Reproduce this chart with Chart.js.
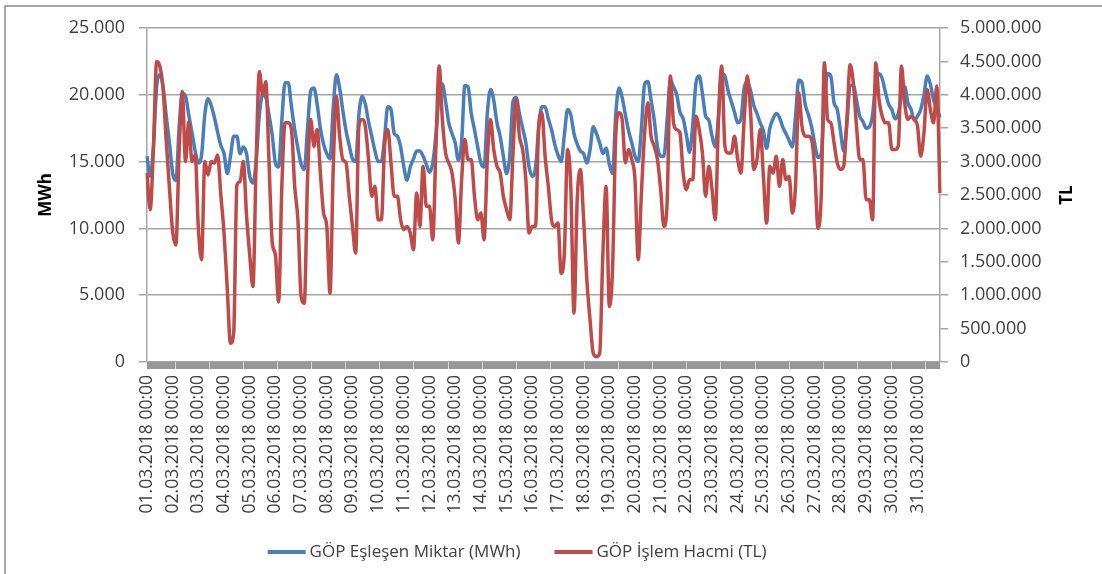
<!DOCTYPE html>
<html>
<head>
<meta charset="utf-8">
<script src="https://cdn.jsdelivr.net/npm/chart.js@4.4.1/dist/chart.umd.min.js"></script>
<style>
  html, body { margin: 0; padding: 0; background: #fff; }
  #wrap { width: 1102px; height: 574px; }
</style>
</head>
<body>
<div id="wrap"><canvas id="chart" width="1102" height="574"></canvas></div>
<script>
// one label per day, 8 samples per day (every 3 hours)
var days = [
  '01.03.2018', '02.03.2018', '03.03.2018', '04.03.2018', '05.03.2018', '06.03.2018',
  '07.03.2018', '08.03.2018', '09.03.2018', '10.03.2018', '11.03.2018', '12.03.2018',
  '13.03.2018', '14.03.2018', '15.03.2018', '16.03.2018', '17.03.2018', '18.03.2018',
  '19.03.2018', '20.03.2018', '21.03.2018', '22.03.2018', '23.03.2018', '24.03.2018',
  '25.03.2018', '26.03.2018', '27.03.2018', '28.03.2018', '29.03.2018', '30.03.2018',
  '31.03.2018'
];
var hours = ['00:00', '03:00', '06:00', '09:00', '12:00', '15:00', '18:00', '21:00'];

var seriesNames = ['GÖP Eşleşen Miktar (MWh)', 'GÖP İşlem Hacmi (TL)'];

// GÖP Eşleşen Miktar (MWh)
var matched = [
  15400, 13900, 16100, 20600, 21500, 20600, 18400, 16400,
  14100, 13600, 17500, 20100, 19900, 18500, 17200, 15800,
  14900, 15500, 18500, 19700, 19200, 18300, 17200, 16200,
  15600, 14100, 15400, 16900, 16900, 15600, 16100, 15600,
  13900, 13400, 15000, 18500, 20000, 19800, 18500, 17000,
  14900, 14600, 18100, 20900, 20900, 19100, 17400, 16000,
  14800, 14400, 17500, 20300, 20500, 19300, 17500, 16300,
  15600, 15200, 19000, 21500, 20500, 18800, 17300, 16200,
  15200, 15000, 18500, 19900, 19300, 18000, 16900, 15800,
  15000, 15000, 16800, 19100, 18900, 17100, 16900, 16100,
  14600, 13600, 14600, 15200, 15800, 15800, 15400, 14800,
  14200, 14900, 17000, 20000, 20800, 19500, 17900, 17100,
  16400, 15100, 16500, 20700, 20600, 18600, 17400, 16100,
  14900, 14600, 18600, 20400, 19600, 17900, 16900, 15400,
  14100, 15500, 19500, 19800, 18600, 17500, 16400, 14600,
  13900, 14500, 17500, 19100, 19100, 18200, 17400, 16300,
  15500, 15000, 17000, 18900, 18500, 17100, 16300, 15800,
  15600, 14900, 15900, 17600, 17100, 16400, 15600, 16000,
  14800, 14100, 18500, 20500, 19800, 18500, 17300, 16400,
  15400, 15000, 17500, 20800, 21000, 19600, 18100, 16100,
  15400, 15400, 18100, 21100, 20600, 20000, 18700, 18200,
  17000, 15700, 17800, 20900, 21400, 20100, 18400, 18100,
  16900, 16100, 18400, 21600, 21400, 20300, 19500, 18700,
  17900, 18200, 20500, 21000, 20300, 19200, 18600, 17900,
  17300, 16000, 17500, 18200, 18600, 18300, 17600, 17100,
  16600, 16100, 18400, 21100, 20900, 19300, 18500, 17600,
  16300, 15300, 15600, 19400, 21600, 21400, 19400, 18900,
  17300, 15800, 17800, 20700, 20700, 19600, 18400, 18000,
  17500, 17600, 18500, 21000, 21600, 21200, 20200, 19300,
  18900, 18200, 18600, 19900, 20600, 19400, 18900, 18100,
  18400, 18900, 20000, 21400, 20800, 19600, 19000, 18300
];

// GÖP İşlem Hacmi (TL)
var volume = [
  2830000, 2280000, 3200000, 4500000, 4430000, 4100000, 3300000, 2600000,
  1950000, 1750000, 3130000, 4050000, 3000000, 3600000, 3000000, 3100000,
  2000000, 1530000, 3000000, 2800000, 3000000, 2980000, 3100000, 2500000,
  1930000, 1100000, 280000, 430000, 2650000, 2700000, 3000000, 2200000,
  1600000, 1130000, 3000000, 4350000, 4000000, 4200000, 3000000, 1800000,
  1600000, 900000, 2630000, 3580000, 3580000, 3480000, 2630000, 2130000,
  980000, 880000, 2730000, 3630000, 3230000, 3480000, 2830000, 2230000,
  2030000, 1030000, 2880000, 3980000, 3380000, 3030000, 2980000, 2480000,
  2030000, 1630000, 3530000, 3630000, 3530000, 3030000, 2480000, 2630000,
  2130000, 2130000, 3230000, 3480000, 2980000, 2480000, 2480000, 2130000,
  1980000, 2030000, 1930000, 1680000, 2530000, 2030000, 2930000, 2330000,
  2330000, 1830000, 3230000, 4430000, 3630000, 3130000, 2980000, 2830000,
  2430000, 1780000, 2730000, 3330000, 3030000, 3030000, 2480000, 2130000,
  2230000, 1830000, 3030000, 3630000, 3180000, 2930000, 2830000, 2480000,
  2280000, 2130000, 3130000, 3930000, 3380000, 3180000, 2730000, 1930000,
  2030000, 2030000, 3530000, 3730000, 3080000, 2630000, 2130000, 2030000,
  2080000, 1330000, 1630000, 3180000, 2630000, 730000, 2430000, 2880000,
  2130000, 1230000, 630000, 130000, 80000, 130000, 1630000, 2630000,
  830000, 1380000, 3380000, 3730000, 3630000, 2980000, 3180000, 3030000,
  2730000, 1530000, 2530000, 3430000, 3880000, 3380000, 3230000, 3030000,
  2580000, 2030000, 2380000, 4280000, 3580000, 3480000, 3430000, 2830000,
  2580000, 2730000, 2730000, 3680000, 3480000, 3130000, 2480000, 2930000,
  2580000, 2130000, 3630000, 4430000, 3230000, 3130000, 3130000, 3380000,
  3030000, 2830000, 3630000, 4280000, 3730000, 2880000, 3030000, 3480000,
  2780000, 2080000, 2930000, 2830000, 3080000, 2630000, 3030000, 2730000,
  2780000, 2230000, 2630000, 4030000, 3530000, 3380000, 3380000, 3330000,
  2880000, 2000000, 2480000, 4480000, 3630000, 3580000, 3280000, 2980000,
  2880000, 2930000, 3630000, 4450000, 4180000, 3530000, 3030000, 3030000,
  2430000, 2430000, 2130000, 4480000, 3930000, 3680000, 3580000, 3580000,
  3180000, 3180000, 3230000, 4430000, 3880000, 3630000, 3680000, 3630000,
  3530000, 3080000, 3430000, 4080000, 3780000, 3580000, 4130000, 2530000
];

var labels = [];
days.forEach(function(d) {
  hours.forEach(function(h) { labels.push(d + ' ' + h); });
});

var blue = '#4a7ebb';
var red = '#be4b48';
var textColor = '#404040';
var gridColor = '#a6a6a6';
var fontFamily = '"Open Sans", "DejaVu Sans", sans-serif';

function fmt(v) {
  return String(v).replace(/\B(?=(\d{3})+(?!\d))/g, '.');
}

// frame, axis band, right axis title and legend
var decor = {
  id: 'decor',
  afterDraw: function(chart) {
    var c = chart.ctx;
    var area = chart.chartArea;
    c.save();

    // outer border (only top and left edges are in view)
    c.strokeStyle = '#8c8c8c';
    c.lineWidth = 1.5;
    c.beginPath();
    c.moveTo(5, chart.height);
    c.lineTo(5, 6);
    c.lineTo(chart.width, 6);
    c.stroke();

    // dense hourly tick band under the plot
    c.fillStyle = '#979797';
    c.fillRect(area.left, area.bottom, area.right - area.left, 7);
    c.fillStyle = '#d8d8d8';
    var perHour = (area.right - area.left) / (days.length * 24);
    for (var h = 26; h < days.length * 24; h += 32) {
      c.fillRect(Math.round(area.left + h * perHour), area.bottom, 1, 7);
    }

    // right axis title, reading bottom to top
    var y1 = chart.scales.y1;
    c.fillStyle = '#000';
    c.font = 'bold 17px ' + fontFamily;
    c.textAlign = 'center';
    c.textBaseline = 'middle';
    c.translate(1067, (y1.top + y1.bottom) / 2);
    c.rotate(-Math.PI / 2);
    c.fillText('TL', 0, 0);
    c.setTransform(1, 0, 0, 1, 0, 0);

    // legend
    c.font = '17px ' + fontFamily;
    c.textAlign = 'left';
    var items = chart.data.datasets.map(function(ds) {
      return { text: ds.label, color: ds.borderColor, w: c.measureText(ds.label).width };
    });
    var lineLen = 38, gap = 4, itemGap = 34, legendY = 552;
    var total = itemGap * (items.length - 1);
    items.forEach(function(it) { total += lineLen + gap + it.w; });
    var x = 517 - total / 2;
    items.forEach(function(it) {
      c.fillStyle = it.color;
      c.fillRect(x, legendY - 2, lineLen, 4);
      c.fillStyle = textColor;
      c.fillText(it.text, x + lineLen + gap, legendY);
      x += lineLen + gap + it.w + itemGap;
    });
    c.restore();
  }
};

var chart = new Chart(document.getElementById('chart'), {
  type: 'line',
  data: {
    labels: labels,
    datasets: [
      {
        label: seriesNames[0],
        data: matched,
        yAxisID: 'y',
        borderColor: blue,
        backgroundColor: blue,
        borderWidth: 3.5,
        pointRadius: 0,
        cubicInterpolationMode: 'monotone',
        order: 2
      },
      {
        label: seriesNames[1],
        data: volume,
        yAxisID: 'y1',
        borderColor: red,
        backgroundColor: red,
        borderWidth: 3.5,
        pointRadius: 0,
        cubicInterpolationMode: 'monotone',
        order: 1
      }
    ]
  },
  options: {
    responsive: false,
    animation: false,
    layout: { padding: { top: 28, left: 0, right: 0, bottom: 0 } },
    plugins: {
      legend: { display: false },
      tooltip: { enabled: false }
    },
    scales: {
      x: {
        grid: { display: false, drawTicks: false },
        border: { display: false },
        ticks: {
          autoSkip: false,
          minRotation: 90,
          maxRotation: 90,
          padding: 13,
          color: textColor,
          font: { family: fontFamily, size: 17.5 },
          callback: function(value) {
            var l = this.getLabelForValue(value);
            return l.slice(-5) === hours[0] ? l : '';
          }
        },
        afterFit: function(s) { s.height = 212; }
      },
      y: {
        position: 'left',
        min: 0,
        max: 25000,
        ticks: {
          stepSize: 5000,
          padding: 14,
          color: textColor,
          font: { family: fontFamily, size: 18 },
          callback: function(v) { return fmt(v); }
        },
        grid: { color: gridColor, lineWidth: 1.5, tickLength: 8, tickColor: gridColor },
        border: { color: gridColor, width: 1.5 },
        title: {
          display: true,
          text: 'MWh',
          color: '#000',
          font: { family: fontFamily, size: 17, weight: 'bold' },
          padding: { top: 36, bottom: 0 }
        },
        afterFit: function(s) { s.width = 147; }
      },
      y1: {
        position: 'right',
        min: 0,
        max: 5000000,
        ticks: {
          stepSize: 500000,
          padding: 12,
          color: textColor,
          font: { family: fontFamily, size: 18 },
          callback: function(v) { return fmt(v); }
        },
        grid: { drawOnChartArea: false, color: gridColor, lineWidth: 1.5, tickLength: 8 },
        border: { color: gridColor, width: 1.5 },
        afterFit: function(s) { s.width = 162; }
      }
    }
  },
  plugins: [decor]
});
</script>
</body>
</html>
